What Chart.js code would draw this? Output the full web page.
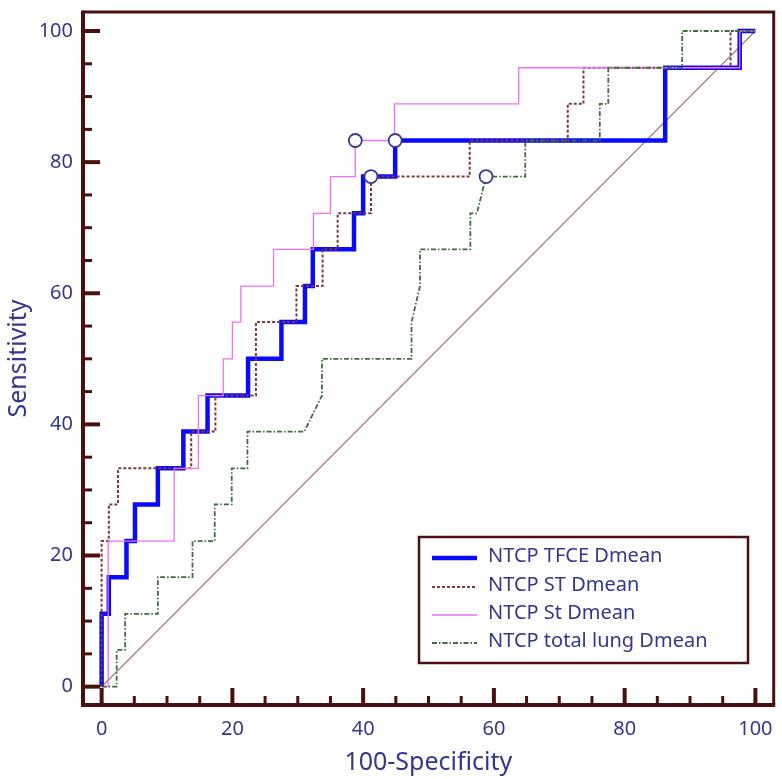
<!DOCTYPE html>
<html>
<head>
<meta charset="utf-8">
<title>ROC - NTCP models</title>
<script src="https://cdn.jsdelivr.net/npm/chart.js@4.4.1/dist/chart.umd.min.js"></script>
<style>
  html, body { margin: 0; padding: 0; background: #fff; }
  #wrap { position: relative; width: 782px; height: 779px; }
</style>
</head>
<body>
<div id="wrap"><canvas id="roc"></canvas></div>
<script>
// ---- Data (x = 100-Specificity, y = Sensitivity) ----
const tickValues  = [0, 20, 40, 60, 80, 100];
const minorValues = [0, 5, 10, 15, 20, 25, 30, 35, 40, 45, 50, 55, 60, 65, 70, 75, 80, 85, 90, 95, 100];

const seriesLabels = ['NTCP TFCE Dmean', 'NTCP ST Dmean', 'NTCP St Dmean', 'NTCP total lung Dmean'];

const tfceX = [0, 0, 1.1, 1.1, 3.8, 3.8, 5.1, 5.1, 8.6, 8.6, 12.5, 12.5, 16.2, 16.2, 22.4, 22.4, 27.5, 27.5,
               31.1, 31.1, 32.3, 32.3, 38.6, 38.6, 40.0, 40.0, 44.9, 44.9, 86.2, 86.2, 97.6, 97.6, 100];
const tfceY = [0, 11.1, 11.1, 16.7, 16.7, 22.2, 22.2, 27.8, 27.8, 33.3, 33.3, 38.9, 38.9, 44.4, 44.4, 50, 50, 55.6,
               55.6, 61.1, 61.1, 66.7, 66.7, 72.2, 72.2, 77.8, 77.8, 83.3, 83.3, 94.4, 94.4, 100, 100];

const stUpX = [0, 0, 1.1, 1.1, 2.5, 2.5, 13.7, 13.7, 17.4, 17.4, 23.6, 23.6, 29.8, 29.8, 33.8, 33.8, 36.1, 36.1,
               41.2, 41.2, 56.3, 56.3, 71.3, 71.3, 73.7, 73.7, 96.2, 96.2, 100];
const stUpY = [0, 22.2, 22.2, 27.8, 27.8, 33.3, 33.3, 38.9, 38.9, 44.4, 44.4, 55.6, 55.6, 61.1, 61.1, 66.7, 66.7, 72.2,
               72.2, 77.8, 77.8, 83.3, 83.3, 88.9, 88.9, 94.4, 94.4, 100, 100];

const stLoX = [0, 1.0, 1.0, 11.1, 11.1, 14.8, 14.8, 18.6, 18.6, 20.0, 20.0, 21.3, 21.3, 26.3, 26.3, 32.4, 32.4,
               35.0, 35.0, 38.8, 38.8, 44.8, 44.8, 63.8, 63.8, 97.6, 97.6, 100];
const stLoY = [0, 0, 22.2, 22.2, 33.3, 33.3, 44.4, 44.4, 50, 50, 55.6, 55.6, 61.1, 61.1, 66.7, 66.7, 72.2,
               72.2, 77.8, 77.8, 83.3, 83.3, 88.9, 88.9, 94.4, 94.4, 100, 100];

const lungX = [0, 2.3, 2.3, 3.6, 3.6, 8.6, 8.6, 13.9, 13.9, 17.3, 17.3, 19.9, 19.9, 22.3, 22.3, 31.0, 33.7, 33.7,
               47.4, 47.4, 48.7, 48.7, 56.4, 56.4, 57.4, 58.8, 64.8, 64.8, 76.2, 76.2, 77.5, 77.5, 88.8, 88.8, 100];
const lungY = [0, 0, 5.6, 5.6, 11.1, 11.1, 16.7, 16.7, 22.2, 22.2, 27.8, 27.8, 33.3, 33.3, 38.9, 38.9, 44.4, 50,
               50, 55.6, 61.1, 66.7, 66.7, 72.2, 72.2, 77.8, 77.8, 83.3, 83.3, 88.9, 88.9, 94.4, 94.4, 100, 100];

// optimal cut-off points (open circles)
const cutX = [38.8, 44.9, 41.2, 58.8];
const cutY = [83.3, 83.3, 77.8, 77.8];

const refX = [0, 100];
const refY = [0, 100];

// ---- helpers ----
const pts = (xs, ys) => xs.map((x, i) => ({ x: x, y: ys[i] }));

const FRAME = '#4a1010';
const TEXT  = '#36368c';
const FONT  = '"Noto Sans", "Open Sans", sans-serif';

// Frame, inward ticks and boxed legend
const rocDecor = {
  id: 'rocDecor',
  afterDatasetsDraw(chart) {
    const { ctx, chartArea: a, scales } = chart;
    const xs = scales.x, ys = scales.y;
    ctx.save();
    ctx.strokeStyle = FRAME;
    ctx.lineCap = 'butt';

    // top / right border
    ctx.lineWidth = 3;
    ctx.beginPath();
    ctx.moveTo(a.left, a.top);
    ctx.lineTo(a.right, a.top);
    ctx.lineTo(a.right, a.bottom);
    ctx.stroke();

    // ticks (major every 20, minor every 5), pointing into the plot
    minorValues.forEach(v => {
      const major = tickValues.includes(v);
      const len = major ? 17 : 9;
      ctx.lineWidth = major ? 4 : 3;
      const px = xs.getPixelForValue(v);
      ctx.beginPath();
      ctx.moveTo(px, a.bottom);
      ctx.lineTo(px, a.bottom - len);
      ctx.stroke();
      const py = ys.getPixelForValue(v);
      ctx.beginPath();
      ctx.moveTo(a.left, py);
      ctx.lineTo(a.left + len, py);
      ctx.stroke();
    });

    // left / bottom axis lines
    ctx.lineWidth = 4;
    ctx.beginPath();
    ctx.moveTo(a.left, a.top - 1.5);
    ctx.lineTo(a.left, a.bottom);
    ctx.lineTo(a.right + 1.5, a.bottom);
    ctx.stroke();

    // legend box
    const bx = 419, by = 537, bw = 329, bh = 126;
    ctx.fillStyle = '#fff';
    ctx.fillRect(bx, by, bw, bh);
    ctx.lineWidth = 2.5;
    ctx.strokeRect(bx, by, bw, bh);

    ctx.font = '20px ' + FONT;
    ctx.textBaseline = 'middle';
    const rowY = [556, 585, 613, 641];
    for (let i = 0; i < 4; i++) {
      const ds = chart.data.datasets[i];
      ctx.strokeStyle = ds.borderColor;
      ctx.lineWidth = ds.borderWidth;
      ctx.setLineDash(ds.borderDash || []);
      ctx.beginPath();
      ctx.moveTo(432, rowY[i] + 2);
      ctx.lineTo(477, rowY[i] + 2);
      ctx.stroke();
      ctx.setLineDash([]);
      ctx.fillStyle = TEXT;
      ctx.fillText(ds.label, 488, rowY[i]);
    }
    ctx.restore();
  }
};

const lineDs = (label, xs, ys, color, width, dash, order) => ({
  label: label,
  data: pts(xs, ys),
  borderColor: color,
  borderWidth: width,
  borderDash: dash,
  pointRadius: 0,
  showLine: true,
  fill: false,
  tension: 0,
  order: order
});

// keep the plot frame where the original has it (no extra label overhang padding)
const noOverhang = s => {
  s.paddingTop = 0; s.paddingBottom = 0; s.paddingLeft = 0; s.paddingRight = 0;
};

const chart = new Chart(document.getElementById('roc'), {
  type: 'scatter',
  data: {
    datasets: [
      lineDs(seriesLabels[0], tfceX, tfceY, '#0a0aff', 4.5, [], 4),
      lineDs(seriesLabels[1], stUpX, stUpY, '#7d3a3a', 2, [3, 2], 3),
      lineDs(seriesLabels[2], stLoX, stLoY, '#f070f0', 1.3, [], 2),
      lineDs(seriesLabels[3], lungX, lungY, '#3d6b3d', 1.8, [5, 2, 1.5, 2], 1),
      lineDs('reference', refX, refY, '#a88888', 1.4, [], 6),
      {
        label: 'cut-off',
        data: pts(cutX, cutY),
        showLine: false,
        pointRadius: 6.5,
        pointBorderWidth: 1.8,
        pointBackgroundColor: '#ffffff',
        pointBorderColor: '#3a3a8a',
        order: 0
      }
    ]
  },
  options: {
    responsive: true,
    maintainAspectRatio: false,
    animation: false,
    layout: { padding: { top: 12, right: 4, left: 0, bottom: 0 } },
    plugins: {
      legend: { display: false },
      tooltip: { enabled: false }
    },
    scales: {
      x: {
        type: 'linear',
        min: -2.85,
        max: 102.8,
        afterFit: s => { s.height = 74; noOverhang(s); },
        afterBuildTicks: s => { s.ticks = tickValues.map(v => ({ value: v })); },
        grid: { display: false, drawTicks: false },
        border: { display: false },
        ticks: { color: TEXT, font: { family: FONT, size: 20 }, padding: 12, maxRotation: 0 },
        title: { display: true, text: '100-Specificity', color: TEXT, font: { family: FONT, size: 25 }, padding: { top: 0, bottom: 1 } }
      },
      y: {
        type: 'linear',
        min: -2.8,
        max: 102.9,
        afterFit: s => { s.width = 83; noOverhang(s); },
        afterBuildTicks: s => { s.ticks = tickValues.map(v => ({ value: v })); },
        grid: { display: false, drawTicks: false },
        border: { display: false },
        ticks: { color: TEXT, font: { family: FONT, size: 20 }, padding: 10 },
        title: { display: true, text: 'Sensitivity', color: TEXT, font: { family: FONT, size: 25 }, padding: { top: 4, bottom: 0 } }
      }
    }
  },
  plugins: [rocDecor]
});
</script>
</body>
</html>
